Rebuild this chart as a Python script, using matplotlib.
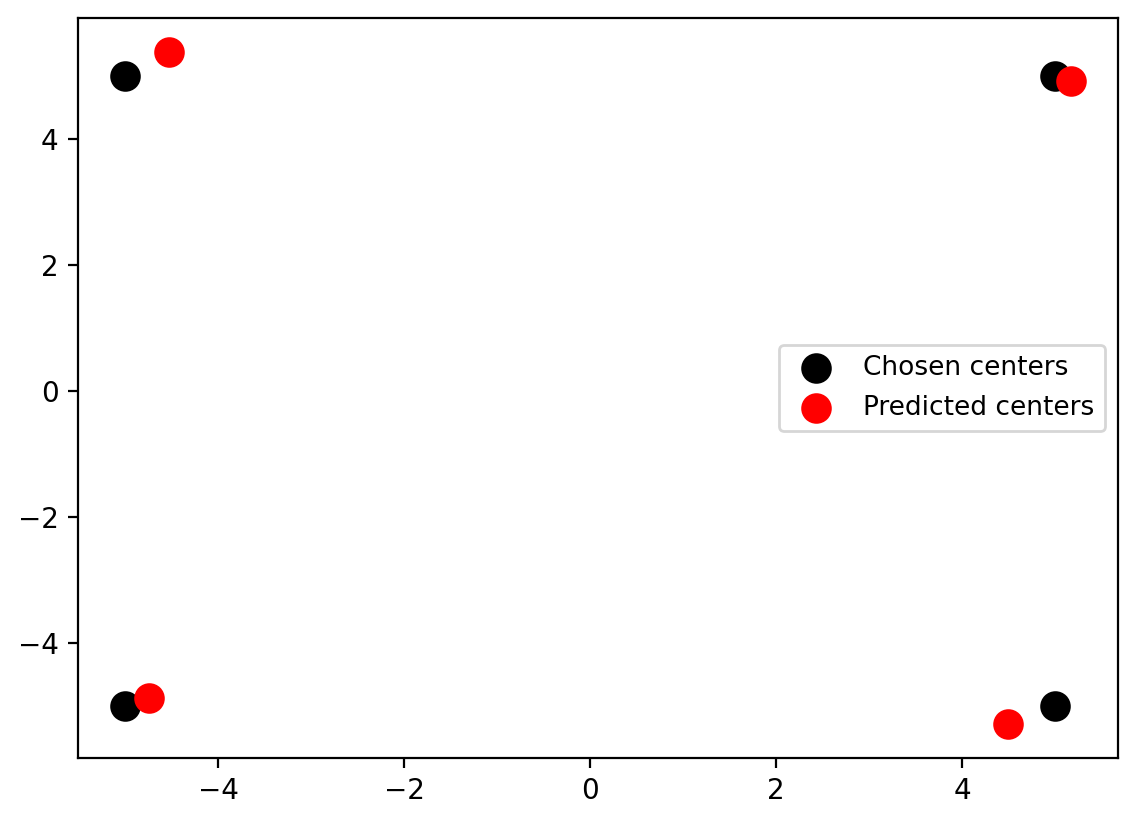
import matplotlib
matplotlib.use("Agg")
import matplotlib.pyplot as plt

chosen_x = [-5, 5, -5, 5]
chosen_y = [5, 5, -5, -5]
pred_x = [-4.53, 5.17, -4.75, 4.49]
pred_y = [5.38, 4.92, -4.87, -5.29]

fig = plt.figure(figsize=(1138/200, 822/200), dpi=200)
ax = fig.add_axes([78/1138, (822-758)/822, 1040/1138, 740/822])
ax.scatter(chosen_x, chosen_y, s=100, c="black", label="Chosen centers")
ax.scatter(pred_x, pred_y, s=100, c="red", label="Predicted centers")
ax.legend(loc="center right", fontsize=9.5)
fig.savefig("out.png", dpi=200)
